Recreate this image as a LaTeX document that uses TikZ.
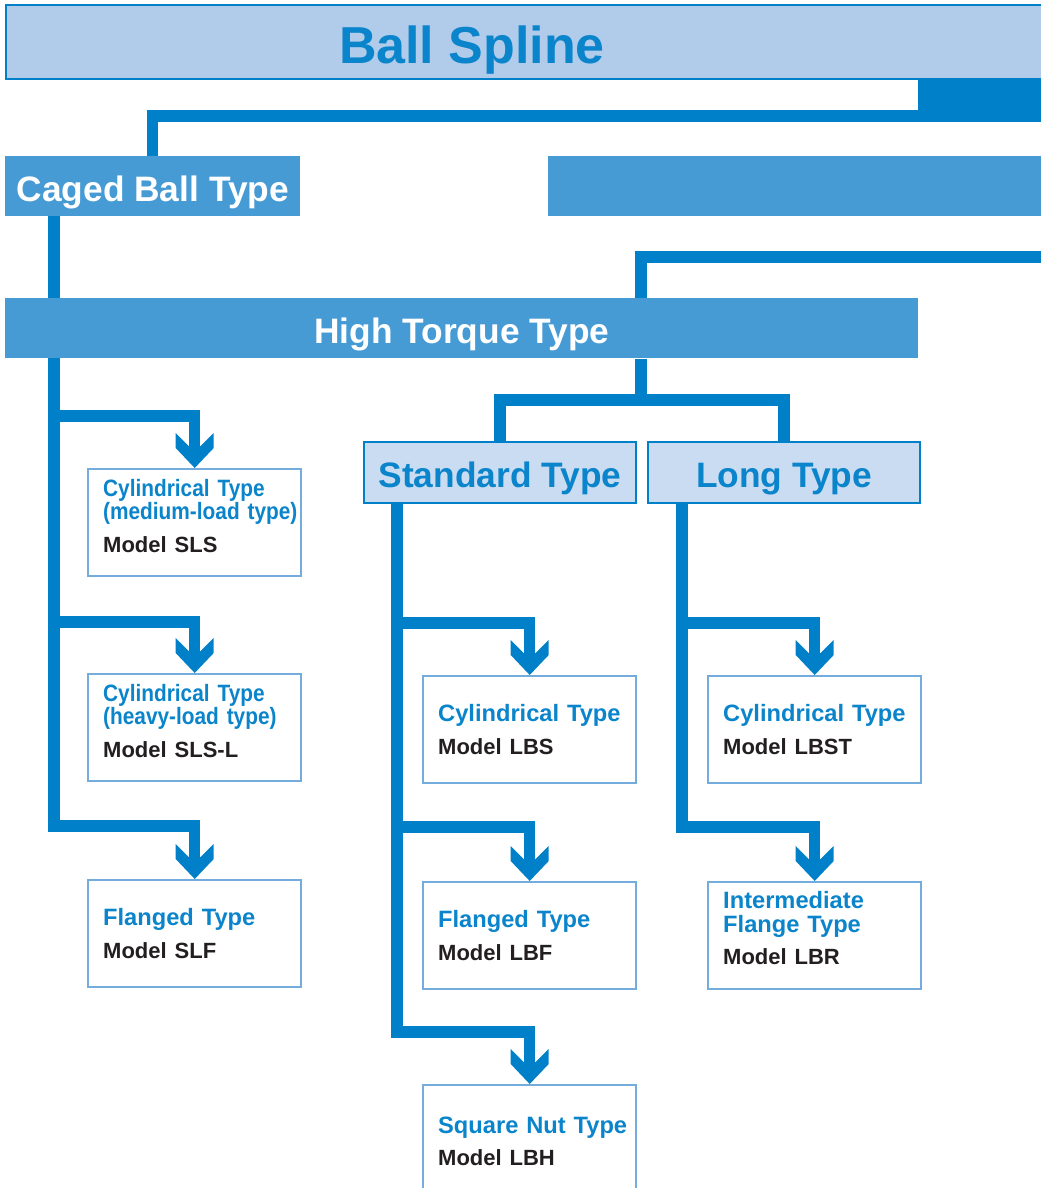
\documentclass[tikz,border=0pt]{standalone}
\usepackage{fontspec}
\setmainfont{Liberation Sans}
\newfontfamily\narrow[FakeStretch=0.88]{Liberation Sans}
\usetikzlibrary{arrows.meta,backgrounds}

\definecolor{lineblue}{HTML}{0080C8}
\definecolor{textblue}{HTML}{0A84CB}
\definecolor{barfill}{HTML}{B1CCEA}
\definecolor{midfill}{HTML}{479BD5}
\definecolor{palefill}{HTML}{C9DCF1}
\definecolor{boxedge}{HTML}{74ADDD}
\definecolor{modelink}{HTML}{231F20}

\newcommand\mdl[1]{{\rmfamily\fontsize{16.5pt}{17.5pt}\selectfont\color{modelink}#1}}

\pgfdeclarearrow{
  name = Chev,
  setup code = {
    \pgfarrowssettipend{0pt}
    \pgfarrowssetbackend{-26.25pt}
    \pgfarrowssetlineend{-15pt}
    \pgfarrowsupperhullpoint{0pt}{0pt}
    \pgfarrowsupperhullpoint{-15pt}{14.25pt}
    \pgfarrowsupperhullpoint{-26.25pt}{14.25pt}
  },
  drawing code = {
    \pgfpathmoveto{\pgfqpoint{0pt}{0pt}}
    \pgfpathlineto{\pgfqpoint{-15pt}{14.25pt}}
    \pgfpathlineto{\pgfqpoint{-26.25pt}{14.25pt}}
    \pgfpathlineto{\pgfqpoint{-16.5pt}{4.5pt}}
    \pgfpathlineto{\pgfqpoint{-16.5pt}{-4.5pt}}
    \pgfpathlineto{\pgfqpoint{-26.25pt}{-14.25pt}}
    \pgfpathlineto{\pgfqpoint{-15pt}{-14.25pt}}
    \pgfpathclose
    \pgfusepathqfill
  }
}

\begin{document}
\begin{tikzpicture}[x=0.75pt,y=-0.75pt,
    link/.style={lineblue,line width=8.5pt},
    bigbox/.style={anchor=north west,inner sep=0pt,minimum height=45pt,text height=22.8pt,text depth=0pt,font=\fontsize{26.5pt}{30pt}\selectfont\bfseries},
    item/.style={draw=boxedge,line width=1.8pt,fill=white,anchor=north west,minimum width=159.75pt,minimum height=80pt,
      inner xsep=11.25pt,inner ysep=0pt,text width=137.25pt,align=left,text=textblue,font=\fontsize{17.75pt}{17.5pt}\selectfont\bfseries}]
  \useasboundingbox (0,0) rectangle (1041,1188);

  \draw[lineblue,line width=1.5pt,fill=barfill] (6,5) rectangle (1050,79);
  \node[anchor=base,text=textblue,font=\fontsize{39pt}{44pt}\selectfont\bfseries] (spline) at (472,64) {Ball Spline};
  \fill[lineblue] (918,79) rectangle (1050,121);

  \node[bigbox,fill=midfill,text=white,minimum width=221.25pt] (caged) at (5,156) {Caged Ball Type};
  \node[bigbox,fill=midfill,minimum width=377pt] (other) at (548,156) {};
  \node[bigbox,fill=midfill,text=white,minimum width=684.75pt] (htq) at (5,298) {High Torque Type};
  \node[bigbox,fill=palefill,draw=lineblue,line width=1.5pt,text=textblue,minimum width=204pt,minimum height=45.75pt] (std) at (363,441) {Standard Type};
  \node[bigbox,fill=palefill,draw=lineblue,line width=1.5pt,text=textblue,minimum width=204pt,minimum height=45.75pt] (lng) at (647,441) {Long Type};

  \node[item] (cyl1) at (87,468) {\narrow Cylindrical Type\\\mbox{(medium-load type)}\\[7pt]\mdl{Model SLS}\par\vspace{10pt}};
  \node[item] (cyl2) at (87,673) {\narrow Cylindrical Type\\\mbox{(heavy-load type)}\\[7pt]\mdl{Model SLS-L}\par\vspace{10pt}};
  \node[item] (flg1) at (87,879) {Flanged Type\\[7pt]\mdl{Model SLF}};
  \node[item] (lbs) at (422,675) {Cylindrical Type\\[7pt]\mdl{Model LBS}};
  \node[item] (lbf) at (422,881) {Flanged Type\\[7pt]\mdl{Model LBF}};
  \node[item,minimum height=84pt] (lbh) at (422,1084) {\mbox{Square Nut Type}\\[7pt]\mdl{Model LBH}};
  \node[item] (lbst) at (707,675) {Cylindrical Type\\[7pt]\mdl{Model LBST}};
  \node[item] (lbr) at (707,881) {Intermediate\\Flange Type\\[7pt]\mdl{Model LBR}\par\vspace{11pt}};

  \coordinate (exit1) at (1041,116);
  \coordinate (exit2) at (1041,257);
  \coordinate (hsplit) at (641,400);
  \coordinate (ltrunk) at (54,216);
  \coordinate (lb1) at (54,416);
  \coordinate (lb2) at (54,622);
  \coordinate (lb3) at (54,826);
  \coordinate (strunk) at (397,502);
  \coordinate (sb1) at (397,623);
  \coordinate (sb2) at (397,827);
  \coordinate (sb3) at (397,1032);
  \coordinate (gtrunk) at (682,502);
  \coordinate (gb1) at (682,623);
  \coordinate (gb2) at (682,827);

  \begin{scope}[on background layer]
    \draw[link] (exit1) -| (caged.north);
    \draw[link] (exit2) -| (hsplit |- htq.north);
    \draw[link] (hsplit |- htq.south) -- (hsplit);
    \draw[link] (std.north) |- (hsplit) -| (lng.north);
    \draw[link,-Chev] (ltrunk) -- (lb3) -| (flg1.north);
    \draw[link,-Chev] (strunk) -- (sb3) -| (lbh.north);
    \draw[link,-Chev] (gtrunk) -- (gb2) -| (lbr.north);
    \foreach \a/\b in {lb1/cyl1,lb2/cyl2,sb1/lbs,sb2/lbf,gb1/lbst}
      \draw[link,-Chev] (\a) -| (\b.north);
  \end{scope}
\end{tikzpicture}
\end{document}
